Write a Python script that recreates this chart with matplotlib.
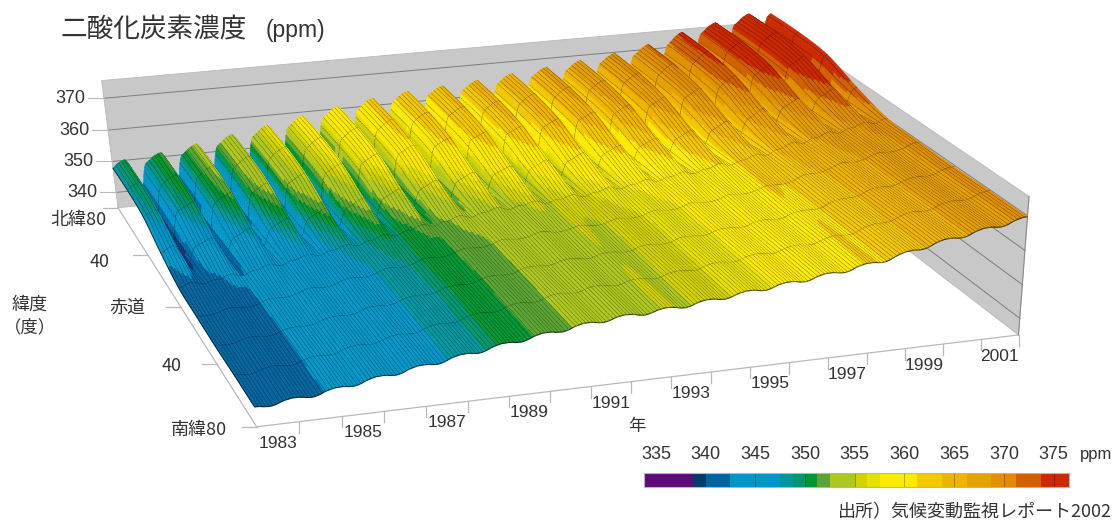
import numpy as np
import matplotlib
matplotlib.use("Agg")
import matplotlib.pyplot as plt
from matplotlib.collections import PolyCollection
from matplotlib.colors import ListedColormap, BoundaryNorm

CJK = ['Noto Sans CJK JP', 'Liberation Sans', 'DejaVu Sans']
NUM = ['Liberation Sans', 'DejaVu Sans']
INK = '#333333'

# ---- data ----
years = list(range(1983, 2002))
annual_south = [341.0, 342.2, 344.0, 345.7, 347.4, 349.2, 350.9, 352.4, 353.7, 354.4,
                355.2, 356.4, 357.6, 358.8, 360.2, 362.0, 364.5, 366.5, 368.4]
gradient_scale = [1.0, 1.0, 1.0, 1.05, 1.1, 1.15, 1.2, 1.2, 1.15, 1.15,
                  1.15, 1.15, 1.1, 1.1, 1.1, 1.15, 1.3, 1.3, 1.3]
lat_nodes = [-80, -60, -40, -20, 0, 20, 40, 60, 80]
lat_offset = [0.0, 0.0, -0.1, 0.1, 0.7, 2.0, 3.3, 3.7, 3.6]
seasonal = [  # Jan..Dec anomaly per latitude node
    [0.3, 0.1, -0.2, -0.4, -0.5, -0.4, -0.2, 0.1, 0.3, 0.4, 0.5, 0.4],
    [0.3, 0.0, -0.2, -0.4, -0.5, -0.4, -0.2, 0.1, 0.3, 0.4, 0.4, 0.4],
    [0.2, 0.0, -0.2, -0.4, -0.4, -0.4, -0.2, 0.1, 0.3, 0.4, 0.4, 0.3],
    [0.1, -0.1, -0.3, -0.4, -0.4, -0.3, -0.2, 0.1, 0.3, 0.5, 0.5, 0.3],
    [-0.1, 0.1, 0.4, 0.6, 0.6, 0.2, -0.3, -0.6, -0.6, -0.3, 0.0, 0.0],
    [1.4, 1.8, 2.2, 2.5, 2.4, 1.0, -1.6, -3.8, -3.6, -1.2, 0.6, 1.1],
    [3.6, 4.0, 4.4, 4.7, 4.5, 1.8, -3.5, -8.0, -7.2, -1.4, 2.4, 3.2],
    [4.2, 4.8, 5.2, 5.5, 5.3, 2.8, -3.8, -10.0, -8.8, -1.4, 2.6, 3.6],
    [4.3, 5.0, 5.4, 5.7, 5.5, 3.0, -3.8, -10.8, -9.4, -1.6, 2.7, 3.7],
]
level_edges = [333.8, 338.75, 340, 342.5, 345, 347.5, 348.75, 350, 351.25, 352.5, 355, 356.25,
               357.5, 360, 361.25, 363.75, 365, 366.25, 368.75, 370, 371.25, 373.75, 375, 376.5]
level_colors = ['#5f0a78', '#003c6e', '#0064a0', '#0096c8', '#0096c8', '#0096a0', '#00966e',
                '#009632', '#5aa532', '#afc81e', '#d2d200', '#e6e100', '#ffeb00', '#ffeb00',
                '#f5c800', '#f0b400', '#f0b400', '#e6a000', '#e19100', '#e18c00', '#d25f00',
                '#cd2800', '#cd2800']
cbar_ticks = [335, 340, 345, 350, 355, 360, 365, 370, 375]
ppm_ticks = [340, 350, 360, 370]
lat_ticks = [(-80, '南緯80'), (-40, '40'), (0, '赤道'), (40, '40'), (80, '北緯80')]

# ---- camera: fitted from the box corners seen in the picture ----
Z0, Z1, T0, T1 = 335.0, 375.5, 1983.0, 2002.0
anchors_world = [(T0, -80, Z0), (T1, -80, Z0), (T0, 80, Z0), (T1, 80, Z0), (T0, 80, Z1), (T1, 80, Z1),
                 (T1, -80, Z1), (T0, -40, Z0), (T0, 0, Z0), (T0, 40, Z0),
                 (1985, -80, Z0), (1992, -80, Z0), (1997, -80, Z0),
                 (T0, 80, 340), (T0, 80, 350), (T0, 80, 360), (T0, 80, 370)]
anchors_px = [(258, 428), (1017, 333), (117, 207), (772, 145), (102, 81), (767, 21),
              (1032, 197), (218, 365), (182, 307), (148, 255),
              (340, 418), (630, 381), (827, 357),
              (115, 192), (112, 161), (108, 130), (105, 98)]


def norm3(t, lat, z):
    return (np.asarray(t, float) - T0) / (T1 - T0), (np.asarray(lat, float) + 80) / 160, (np.asarray(z, float) - Z0) / (Z1 - Z0)


rows = []
for (t, la, z), (u, v) in zip(anchors_world, anchors_px):
    X, Y, Zn = norm3(t, la, z)
    P4 = [X, Y, Zn, 1]
    rows.append(P4 + [0, 0, 0, 0] + [-u * c for c in P4])
    rows.append([0, 0, 0, 0] + P4 + [-v * c for c in P4])
P = np.linalg.svd(np.array(rows, float))[2][-1].reshape(3, 4)
if P[2, 3] < 0:
    P = -P
cam = np.linalg.svd(P)[2][-1]
cam = cam / cam[3]


def project(t, lat, z):
    X, Y, Zn = norm3(t, lat, z)
    h = np.stack([X, Y, Zn, np.ones_like(X * Y * Zn)], -1) @ P.T
    return h[..., 0] / h[..., 2], h[..., 1] / h[..., 2]


def smooth(x, xp, fp):
    """Catmull-Rom through uniformly spaced read values."""
    xp = np.asarray(xp, float)
    fp = np.asarray(fp, float)
    d = xp[1] - xp[0]
    f = np.r_[2 * fp[0] - fp[1], fp, 2 * fp[-1] - fp[-2]]
    s = (np.asarray(x, float) - xp[0]) / d
    i = np.clip(np.floor(s).astype(int), 0, len(fp) - 2)
    u = s - i
    a, b, c, e = f[i], f[i + 1], f[i + 2], f[i + 3]
    return 0.5 * (2 * b + (c - a) * u + (2 * a - 5 * b + 4 * c - e) * u ** 2 + (3 * b - a - 3 * c + e) * u ** 3)


def periodic(ph, vals):
    """Periodic Catmull-Rom through the 12 monthly values."""
    v = np.asarray(vals, float)
    s = ph * 12 - 0.5
    i = np.floor(s).astype(int)
    u = s - i
    a, b, c, e = v[(i - 1) % 12], v[i % 12], v[(i + 1) % 12], v[(i + 2) % 12]
    return 0.5 * (2 * b + (c - a) * u + (2 * a - 5 * b + 4 * c - e) * u ** 2 + (3 * b - a - 3 * c + e) * u ** 3)


# ---- surface ----
STEP = 3
t_grid = np.linspace(T0, T1, 19 * 12 * STEP + 1)
lat_grid = np.linspace(-80, 80, 81)
trend = smooth(t_grid, np.array(years) + 0.5, annual_south)
scale = smooth(t_grid, np.array(years) + 0.5, gradient_scale)
seas_by_node = np.array([periodic(t_grid % 1.0, s) for s in seasonal])
offset = smooth(lat_grid, lat_nodes, lat_offset)
seas = np.array([smooth(lat_grid, lat_nodes, seas_by_node[:, j]) for j in range(len(t_grid))]).T
Z = trend[None, :] + offset[:, None] * scale[None, :] + seas
TT, LL = np.meshgrid(t_grid, lat_grid)
PX, PY = project(TT, LL, Z)

cmap = ListedColormap(level_colors)
norm = BoundaryNorm(level_edges, cmap.N, clip=True)

nl, nt = Z.shape
col_order = np.argsort(-np.abs(0.5 * (t_grid[:-1] + t_grid[1:]) - (T0 + cam[0] * (T1 - T0))))
rgba = cmap(norm(0.25 * (Z[:-1, :-1] + Z[1:, :-1] + Z[:-1, 1:] + Z[1:, 1:])))
polys, faces, edges, widths = [], [], [], []
NONE = (0, 0, 0, 0)
MONTH_LINE = (0.03, 0.03, 0.0, 0.8)
LAT_LINE = (0.0, 0.0, 0.0, 0.8)
for i in range(nl - 2, -1, -1):  # north to south
    for j in col_order:
        quad = np.array([[PX[i, j], PY[i, j]], [PX[i, j + 1], PY[i, j + 1]],
                         [PX[i + 1, j + 1], PY[i + 1, j + 1]], [PX[i + 1, j], PY[i + 1, j]],
                         [PX[i, j], PY[i, j]]])
        polys.append(quad)
        faces.append(rgba[i, j])
        edges.append(rgba[i, j])
        widths.append(0.35)
        if j % STEP == 0:
            polys.append(quad[[3, 0]])
            faces.append(NONE)
            edges.append(MONTH_LINE)
            widths.append(0.7)
        if (lat_grid[i] + 80) % 20 == 0:
            polys.append(quad[[0, 1]])
            faces.append(NONE)
            edges.append(LAT_LINE)
            widths.append(0.75)

# ---- figure ----
fig = plt.figure(figsize=(11.19, 5.21), dpi=100)
ax = fig.add_axes([0, 0, 1, 1])
ax.set_xlim(0, 1119)
ax.set_ylim(521, 0)
ax.axis('off')

WALL = '#c8c8c8'
GRID = '#7d7d7d'
AXL = '#b9b9b9'


def wall(pts, **kw):
    xs, ys = project(*np.array(pts).T)
    ax.fill(xs, ys, **kw)


wall([(T0, 80, Z0), (T1, 80, Z0), (T1, 80, Z1), (T0, 80, Z1)], fc=WALL, ec=AXL, lw=0.6, zorder=1)
wall([(T1, -80, Z0), (T1, 80, Z0), (T1, 80, Z1), (T1, -80, Z1)], fc=WALL, ec=AXL, lw=0.6, zorder=1)
for v in ppm_ticks:
    x, y = project([T0, T1], [80, 80], [v, v])
    ax.plot(x, y, color=GRID, lw=0.7, zorder=2)
    x2, y2 = project([T1, T1], [80, -80], [v, v])
    ax.plot(x2, y2, color=GRID, lw=0.7, zorder=2)
    ax.plot([x[0] - 16, x[0]], [y[0], y[0]], color=AXL, lw=0.8, zorder=2)
    ax.text(x[0] - 34, y[0], str(v), family=NUM, fontsize=13, color=INK, ha='center', va='center')

x, y = project([T0, T1], [-80, -80], [Z0, Z0])
ax.plot(x, y, color=AXL, lw=0.9, zorder=2)
x, y = project([T0, T0], [-80, 80], [Z0, Z0])
ax.plot(x, y, color=AXL, lw=0.9, zorder=2)
x, y = project([T1, T1], [-80, -80], [Z0, Z1])
ax.plot(x, y, color='#8a8a8a', lw=0.8, zorder=2)

for yr in range(1983, 2003):
    x, y = project(yr, -80, Z0)
    if yr > 1983:
        ax.plot([x, x], [y, y + 11], color=AXL, lw=0.9, zorder=2)
    if yr % 2 == 1 and yr < 2002:
        xm, ym = project(yr + 0.5, -80, Z0)
        ax.text(xm, ym + 19, str(yr), family=NUM, fontsize=12.5, color=INK, ha='center', va='center')

label_at = {(-80): (199, 430), (-40): (172, 366), 0: (127, 308), 40: (100, 262), 80: (78, 220)}
for la, txt in lat_ticks:
    x, y = project(T0, la, Z0)
    ax.plot([x - 15, x], [y, y], color=AXL, lw=0.9, zorder=2)
    ax.text(*label_at[la], txt, family=CJK, fontsize=13, color=INK, ha='center', va='center')

ax.add_collection(PolyCollection(polys, facecolors=faces, edgecolors=edges, linewidths=widths,
                                 closed=False, zorder=3))

ax.text(60, 30, '二酸化炭素濃度', family=CJK, fontsize=19.2, color=INK, ha='left', va='center')
ax.text(266, 30, '(ppm)', family=NUM, fontsize=16.5, color=INK, ha='left', va='center')
ax.text(30, 305, '緯度', family=CJK, fontsize=13, color=INK, ha='center', va='center')
ax.text(30, 327, '（度）', family=CJK, fontsize=12.5, color=INK, ha='center', va='center')
ax.text(637, 426, '年', family=CJK, fontsize=12.5, color=INK, ha='center', va='center')
ax.text(1112, 512, '出所）気候変動監視レポート2002', family=CJK, fontsize=13, color=INK, ha='right', va='center')
ax.text(1096, 454, 'ppm', family=NUM, fontsize=12, color=INK, ha='center', va='center')

# ---- colour bar ----
cax = fig.add_axes([644 / 1119, 1 - 487 / 521, (1068.5 - 644) / 1119, 14 / 521])
grid_x = np.array(level_edges)
cax.pcolormesh(grid_x, [0, 1], np.array([0.5 * (grid_x[:-1] + grid_x[1:])]), cmap=cmap, norm=norm)
cax.vlines([345, 350, 355, 360, 365, 370, 375], 0, 1, color='#000000', lw=0.6, alpha=0.35)
cax.set_xlim(level_edges[0], level_edges[-1])
cax.set_yticks([])
cax.xaxis.tick_top()
cax.set_xticks(cbar_ticks)
cax.set_xticklabels([str(v) for v in cbar_ticks], family=NUM, fontsize=13, color=INK)
cax.tick_params(axis='x', length=0, pad=7)
for s in cax.spines.values():
    s.set_color('#b4b4b4')
    s.set_linewidth(0.8)

fig.savefig('out.png', dpi=100)
